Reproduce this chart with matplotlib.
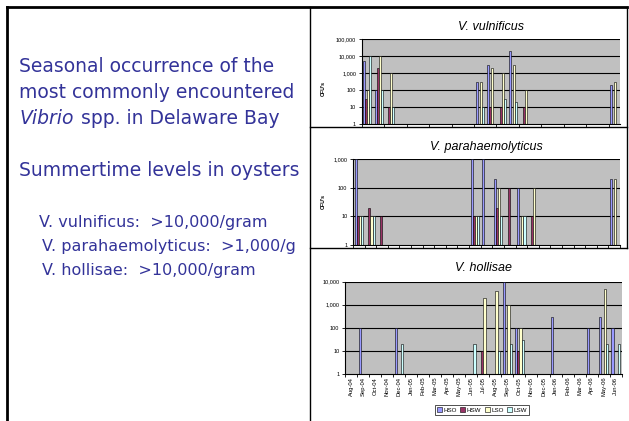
import numpy as np
import matplotlib
matplotlib.use("Agg")
import matplotlib.pyplot as plt
from matplotlib.lines import Line2D
from matplotlib.patches import Patch
from matplotlib.ticker import FixedLocator, FuncFormatter, NullLocator

# ---------------- data ----------------
months = ["Aug-04", "Sep-04", "Oct-04", "Nov-04", "Dec-04", "Jan-05", "Feb-05", "Mar-05",
          "Apr-05", "May-05", "Jun-05", "Jul-05", "Aug-05", "Sep-05", "Oct-05", "Nov-05",
          "Dec-05", "Jan-06", "Feb-06", "Mar-06", "Apr-06", "May-06", "Jun-06"]
series = ["HSO", "HSW", "LSO", "LSW"]
colors = ["#9999FF", "#993366", "#FFFFCC", "#CCFFFF"]

# V. vulnificus (0 = not detected)
vv_HSO = [5000, 100, 0, 0, 0, 0, 0, 0, 0, 0, 300, 3000, 0, 20000, 0, 0, 0, 0, 0, 0, 0, 0, 200]
vv_HSW = [30, 2000, 10, 0, 0, 0, 0, 0, 0, 0, 0, 10, 10, 0, 10, 0, 0, 0, 0, 0, 0, 0, 0]
vv_LSO = [100, 10000, 1000, 0, 0, 0, 0, 0, 0, 0, 300, 2000, 1000, 3000, 100, 0, 0, 0, 0, 0, 0, 0, 300]
vv_LSW = [10000, 100, 10, 0, 0, 0, 0, 0, 0, 0, 10, 0, 30, 20, 0, 0, 0, 0, 0, 0, 0, 0, 0]

# V. parahaemolyticus
vp_HSO = [1000, 0, 0, 0, 0, 0, 0, 0, 0, 0, 1000, 1000, 200, 0, 100, 0, 0, 0, 0, 0, 0, 0, 200]
vp_HSW = [10, 20, 10, 0, 0, 0, 0, 0, 0, 0, 10, 0, 20, 100, 0, 10, 0, 0, 0, 0, 0, 0, 0]
vp_LSO = [10, 10, 0, 0, 0, 0, 0, 0, 0, 0, 10, 0, 100, 0, 10, 100, 0, 0, 0, 0, 0, 0, 200]
vp_LSW = [10, 10, 0, 0, 0, 0, 0, 0, 0, 0, 10, 0, 10, 0, 10, 0, 0, 0, 0, 0, 0, 0, 0]

# V. hollisae
vh_HSO = [0, 100, 0, 0, 100, 0, 0, 0, 0, 0, 0, 0, 0, 10000, 100, 0, 0, 300, 0, 0, 100, 300, 100]
vh_HSW = [0, 0, 0, 0, 0, 0, 0, 0, 0, 0, 0, 10, 0, 0, 10, 0, 0, 0, 0, 0, 0, 0, 0]
vh_LSO = [0, 0, 0, 0, 0, 0, 0, 0, 0, 0, 0, 2000, 4000, 1000, 100, 0, 0, 0, 0, 0, 0, 5000, 0]
vh_LSW = [0, 0, 0, 0, 20, 0, 0, 0, 0, 0, 20, 0, 10, 20, 30, 0, 0, 0, 0, 0, 0, 20, 20]

# ---------------- figure ----------------
W, H = 629, 421
fig = plt.figure(figsize=(W / 100, H / 100), dpi=100)
fig.patch.set_facecolor("white")

def fx(x):
    return x / W

def fy(y):
    return 1 - y / H

def rect(l, t, r, b):
    return [fx(l), fy(b), (r - l) / W, (b - t) / H]

def line(x0, y0, x1, y1, lw=1.0):
    fig.add_artist(Line2D([fx(x0), fx(x1)], [fy(y0), fy(y1)], color="black",
                          lw=lw, transform=fig.transFigure))

# slide frame
line(7, 7, 627, 7, lw=2.0)
line(7, 7, 7, 421, lw=2.0)
line(310, 7, 310, 421, lw=1.0)
line(627, 7, 627, 248, lw=1.0)
line(310, 127, 627, 127, lw=1.0)
line(310, 248, 627, 248, lw=1.0)

# left text
tc = "#333399"
tf = "DejaVu Sans"
big = 13.5
fig.text(fx(19), fy(66), "Seasonal occurrence of the", color=tc, fontsize=big, family=tf, va="center")
fig.text(fx(19), fy(93), "most commonly encountered", color=tc, fontsize=big, family=tf, va="center")
fig.text(fx(20), fy(119), "Vibrio", color=tc, fontsize=big, family=tf, style="italic", va="center")
fig.text(fx(81), fy(119), "spp. in Delaware Bay", color=tc, fontsize=big, family=tf, va="center")
fig.text(fx(19), fy(171), "Summertime levels in oysters", color=tc, fontsize=big, family=tf, va="center")
small = 11.5
fig.text(fx(39), fy(223), "V. vulnificus:  >10,000/gram", color=tc, fontsize=small, family=tf, va="center")
fig.text(fx(42.5), fy(247), "V. parahaemolyticus:  >1,000/g", color=tc, fontsize=small, family=tf, va="center")
fig.text(fx(42.5), fy(270), "V. hollisae:  >10,000/gram", color=tc, fontsize=small, family=tf, va="center")

cf = "Liberation Sans"
n = len(months)
x = np.arange(n)
bw = 0.18

def comma(v, pos):
    return f"{int(round(v)):,}"

def draw_chart(r, data, ymax, title, title_y, xtick_every, show_xlabels, ylabel_y):
    ax = fig.add_axes(r)
    ax.set_facecolor("#C0C0C0")
    ax.set_yscale("log")
    ax.set_ylim(1, ymax)
    ax.set_xlim(-0.5, n - 0.5)
    decades = [10 ** k for k in range(int(round(np.log10(ymax))) + 1)]
    ax.yaxis.set_major_locator(FixedLocator(decades))
    ax.yaxis.set_minor_locator(NullLocator())
    ax.yaxis.set_major_formatter(FuncFormatter(comma))
    for d in decades[1:]:
        ax.axhline(d, color="black", lw=0.8, zorder=1)
    for k, vals in enumerate(data):
        vals = np.asarray(vals, dtype=float)
        m = vals > 0
        ax.bar(x[m] + (k - 1.5) * bw, vals[m] - 1, bottom=1, width=bw,
               color=colors[k], edgecolor="black", lw=0.4, zorder=2)
    for s in ["top", "right"]:
        ax.spines[s].set_visible(False)
    for s in ["left", "bottom"]:
        ax.spines[s].set_color("black")
        ax.spines[s].set_linewidth(0.8)
    ax.set_xticks(np.arange(-0.5, n, xtick_every))
    ax.set_xticklabels([])
    ax.tick_params(axis="x", length=2.5, width=0.6, direction="out")
    ax.tick_params(axis="y", length=2.5, width=0.6, labelsize=4, pad=1.5)
    for lab in ax.get_yticklabels():
        lab.set_family(cf)
    if show_xlabels:
        ax.set_xticks(x, minor=True)
        ax.set_xticklabels(months, minor=True, rotation=90, fontsize=4.2, family=cf)
        ax.tick_params(axis="x", which="minor", length=0, pad=2)
    cx = r[0] + r[2] / 2
    fig.text(cx, fy(title_y), title, fontsize=9, style="italic", family=cf,
             ha="center", va="center")
    if ylabel_y is not None:
        fig.text(fx(323), fy(ylabel_y), "CFU's", fontsize=3.8, fontweight="bold",
                 family=cf, rotation=90, ha="center", va="center")
    return ax

draw_chart(rect(361.7, 39, 620, 124), [vv_HSO, vv_HSW, vv_LSO, vv_LSW], 100000,
           "V. vulnificus", 27, 2, False, 89)
draw_chart(rect(353, 159, 620, 245), [vp_HSO, vp_HSW, vp_LSO, vp_LSW], 1000,
           "V. parahaemolyticus", 147, 1, False, 201)
axb = draw_chart(rect(345, 281.7, 621.7, 374), [vh_HSO, vh_HSW, vh_LSO, vh_LSW], 10000,
                 "V. hollisae", 268, 1, True, None)

handles = [Patch(facecolor=c, edgecolor="black", lw=0.4) for c in colors]
leg = fig.legend(handles, series, loc="center", bbox_to_anchor=(fx(482), fy(410)),
                 ncol=4, fontsize=4.5, frameon=True, fancybox=False, edgecolor="black",
                 handlelength=0.8, handleheight=0.8, handletextpad=0.2, columnspacing=0.6,
                 borderpad=0.3, prop={"family": cf, "size": 4.5})
leg.get_frame().set_linewidth(0.6)

fig.savefig("out.png", dpi=100, facecolor="white")
